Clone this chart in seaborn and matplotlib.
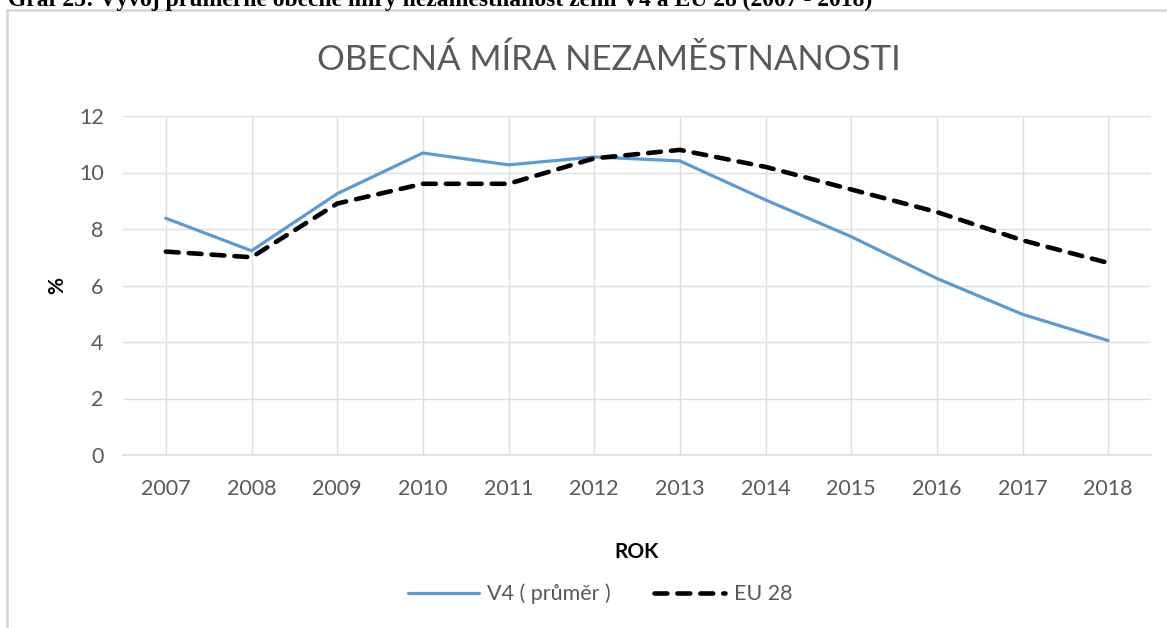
import pandas as pd
import matplotlib
matplotlib.use("Agg")
import matplotlib.pyplot as plt
import seaborn as sns

# chart data
years = [2007, 2008, 2009, 2010, 2011, 2012, 2013, 2014, 2015, 2016, 2017, 2018]
v4_avg = [8.38, 7.23, 9.25, 10.69, 10.27, 10.55, 10.41, 9.03, 7.73, 6.25, 4.98, 4.05]
eu28 = [7.2, 7.0, 8.9, 9.6, 9.6, 10.5, 10.8, 10.2, 9.4, 8.6, 7.6, 6.8]
series_names = ["V4 ( průměr )", "EU 28"]
y_ticks = [0, 2, 4, 6, 8, 10, 12]

data = pd.DataFrame({
    "rok": years * 2,
    "hodnota": v4_avg + eu28,
    "rada": [series_names[0]] * len(years) + [series_names[1]] * len(years),
})

sns.set_theme(style="white")
plt.rcParams["font.family"] = ["Lato", "DejaVu Sans"]

gray = "#595959"
grid = "#dedede"

fig = plt.figure(figsize=(11.67, 6.28), dpi=100)
ax = fig.add_axes([123 / 1167, 1 - 455 / 628, (1151 - 123) / 1167, (455 - 116) / 628])

sns.lineplot(data=data, x="rok", y="hodnota", hue="rada", style="rada",
             palette={series_names[0]: "#5b9bd5", series_names[1]: "black"},
             dashes={series_names[0]: "", series_names[1]: (2.8, 2.2)},
             ax=ax, legend=False)
lines = ax.get_lines()
lines[0].set_linewidth(2.3)
lines[1].set_linewidth(3.3)
lines[1].set_dash_capstyle("round")

ax.set_xlim(years[0] - 0.5, years[-1] + 0.5)
ax.set_ylim(0, 12)
ax.set_xticks(years)
ax.set_xticklabels([str(y) for y in years])
ax.set_yticks(y_ticks)
ax.grid(True, color=grid, linewidth=1)
ax.set_axisbelow(True)
for s in ["top", "right", "left"]:
    ax.spines[s].set_visible(False)
ax.spines["bottom"].set_color(grid)
ax.spines["bottom"].set_linewidth(1.2)
ax.tick_params(axis="both", length=0, labelsize=15.5, labelcolor=gray)
ax.tick_params(axis="y", pad=14)
ax.tick_params(axis="x", pad=17)

ax.set_xlabel("ROK", fontsize=15, fontweight="bold", color="black", labelpad=31)
ax.set_ylabel("%", fontsize=15, fontweight="bold", color="black", labelpad=8)

fig.text(0.522, 1 - 60 / 628, "OBECNÁ MÍRA NEZAMĚSTNANOSTI", ha="center", va="center",
         fontsize=25, color=gray)

# caption of the document, clipped at the top edge
fig.text(8 / 1167, 1 - 6 / 628,
         "Graf 25: Vývoj průměrné obecné míry nezaměstnanost zemí V4 a EU 28 (2007 - 2018)",
         ha="left", va="baseline", fontsize=17, fontweight="bold", color="black",
         family=["Liberation Serif", "DejaVu Serif"])

# chart frame
frame = plt.Rectangle((7 / 1167, -0.05), 1.2, 1 - 10 / 628 + 0.05, transform=fig.transFigure,
                      fill=False, edgecolor="#d9d9d9", linewidth=2)
fig.patches.append(frame)

leg = fig.legend(lines, series_names, loc="center", bbox_to_anchor=(600 / 1167, 1 - 594 / 628),
                 ncol=2, frameon=False, fontsize=15.5, handlelength=3.3, columnspacing=2.0,
                 handletextpad=0.4)
for t in leg.get_texts():
    t.set_color(gray)

fig.savefig("out.png", dpi=100)
